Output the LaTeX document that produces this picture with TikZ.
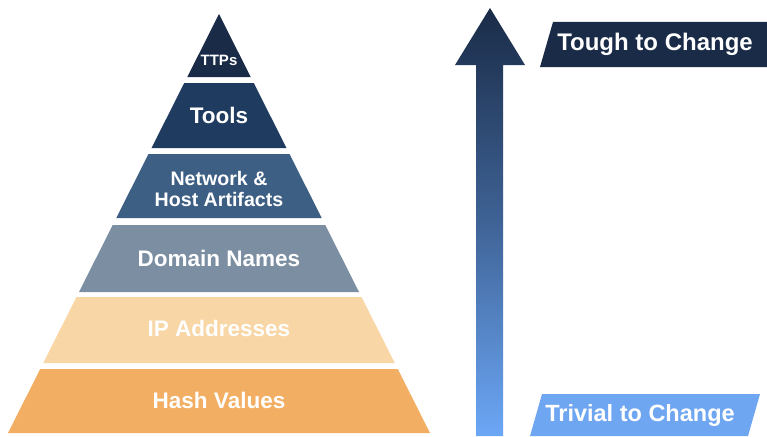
\documentclass[tikz,border=0pt]{standalone}
\usepackage{fontspec}
\setmainfont{Liberation Sans}
\begin{document}
\begin{tikzpicture}[x=1pt,y=-1pt,
  lbl/.style={text=white,font=\bfseries\fontsize{22.5}{24}\selectfont,align=center,inner sep=0pt},
  lblsmall/.style={lbl,font=\bfseries\fontsize{19.6}{21.5}\selectfont},
  side/.style={text=white,font=\bfseries\fontsize{24}{26}\selectfont,inner sep=0pt}]
\definecolor{cTTP}{HTML}{1A2B47}
\definecolor{cTools}{HTML}{1F3B60}
\definecolor{cNet}{HTML}{3E5F84}
\definecolor{cDom}{HTML}{7C8FA2}
\definecolor{cIP}{HTML}{F8D6A5}
\definecolor{cHash}{HTML}{F2AE62}
\definecolor{cTop}{HTML}{1A2B47}
\definecolor{cBot}{HTML}{6CA7F6}
\definecolor{cTriv}{HTML}{6FA6F2}
\fill[white] (0,0) rectangle (767,436);
\useasboundingbox (0,0) rectangle (767,436);
\newcommand{\pband}[3]{%
  \pgfmathsetmacro{\hA}{(#1-14)*0.5036}%
  \pgfmathsetmacro{\hB}{(#2-14)*0.5036}%
  \fill[#3] (219-\hA,#1) -- (219+\hA,#1) -- (219+\hB,#2) -- (219-\hB,#2) -- cycle;}
% pyramid bands
\fill[cTTP] (219,14) -- (219+31.7,77) -- (219-31.7,77) -- cycle;
\pband{83}{148}{cTools}
\pband{154}{218}{cNet}
\pband{225}{292}{cDom}
\pband{297}{363}{cIP}
\pband{369}{433}{cHash}
% labels
\node[lbl,font=\bfseries\fontsize{15}{17}\selectfont] (ttp) at (219,60) {TTPs};
\node[lbl] (tools) at (219,115) {Tools};
\node[lblsmall] (net) at (219,189) {Network \&\\Host Artifacts};
\node[lbl] (dom) at (219,258) {Domain Names};
\node[lbl] (ip) at (219,328) {IP Addresses};
\node[lbl] (hash) at (219,400) {Hash Values};
% arrow
\shade[top color=cTop,bottom color=cBot,middle color=cTop!55!cBot]
  (490,8) -- (525,65) -- (503,65) -- (503,436) -- (476,436) -- (476,65) -- (455,65) -- cycle;
% side labels
\fill[cTTP] (540,67) -- (553,22) -- (780,22) -- (767,67) -- cycle;
\node[side] (tough) at (655,44) {Tough to Change};
\fill[cTriv] (530,436) -- (542,394) -- (760,394) -- (748,436) -- cycle;
\node[side,font=\bfseries\fontsize{23.5}{25}\selectfont] (triv) at (640,415) {Trivial to Change};
\end{tikzpicture}
\end{document}
